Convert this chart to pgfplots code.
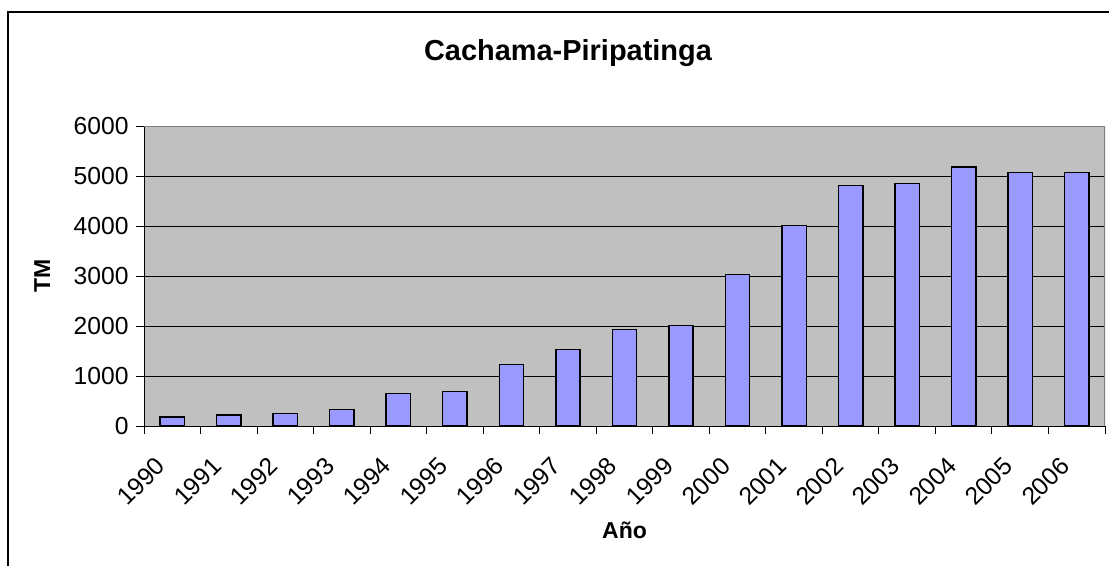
\documentclass[border=0pt]{standalone}
\usepackage{fontspec}
\setmainfont{Liberation Sans}
\usepackage{pgfplots}
\pgfplotsset{compat=1.18}

\definecolor{plotgray}{HTML}{C0C0C0}
\definecolor{barblue}{HTML}{9999FF}
\definecolor{framegray}{HTML}{808080}

\begin{document}
\begin{tikzpicture}
% 1 px of the reference = 0.75pt
\useasboundingbox (0,0) rectangle (831.75pt,-423.75pt);
\clip (0,0) rectangle (831.75pt,-423.75pt);
\draw[black,line width=1.5pt] (6pt,-430pt) -- (6pt,-9pt) -- (840pt,-9pt);
\node[font=\fontsize{21.7}{24}\selectfont\bfseries] at (426pt,-39.5pt) {Cachama-Piripatinga};
\begin{axis}[
    at={(108pt,-94.5pt)}, anchor=north west,
    scale only axis, width=720.75pt, height=225pt,
    xmin=-0.5, xmax=16.5, ymin=0, ymax=6000,
    ybar, bar width=0.43,
    axis x line*=bottom, axis y line*=left,
    axis line style={black,line width=0.75pt},
    axis background/.style={fill=plotgray},
    tick align=outside,
    xtick={0,...,16},
    xticklabels={1990,1991,1992,1993,1994,1995,1996,1997,1998,1999,2000,2001,2002,2003,2004,2005,2006},
    major x tick style={draw=none},
    minor xtick={-0.5,0.5,...,16.5},
    minor x tick style={black,line width=0.75pt},
    minor tick length=6pt,
    ytick={0,1000,...,6000},
    major tick length=6pt,
    ytick style={black,line width=0.75pt},
    ymajorgrids, grid style={black,line width=0.75pt},
    /pgf/number format/1000 sep={},
    /pgf/number format/assume math mode=true,
    ticklabel style={font=\fontsize{18.5}{21}\selectfont},
    yticklabel style={xshift=-2pt},
    xticklabel style={xshift=-13.5pt, yshift=-11.5pt, rotate=45, anchor=north east},
    xlabel={Año},
    ylabel={TM},
    label style={font=\fontsize{17.25}{20}\selectfont\bfseries},
    xlabel style={at={(axis description cs:0.5,-0.347)}, anchor=center},
    ylabel style={at={(axis description cs:-0.106,0.5)}, anchor=center, rotate=0},
]
\addplot[fill=barblue, draw=black, line width=1.1pt] coordinates {
    (0,180) (1,220) (2,253) (3,327) (4,647) (5,687) (6,1233) (7,1527)
    (8,1927) (9,2007) (10,3027) (11,4013) (12,4813) (13,4853) (14,5180)
    (15,5073) (16,5073)
};
\draw[framegray,line width=1.2pt] (rel axis cs:0,1) -- (rel axis cs:1,1) -- (rel axis cs:1,0);
\end{axis}
\end{tikzpicture}
\end{document}
